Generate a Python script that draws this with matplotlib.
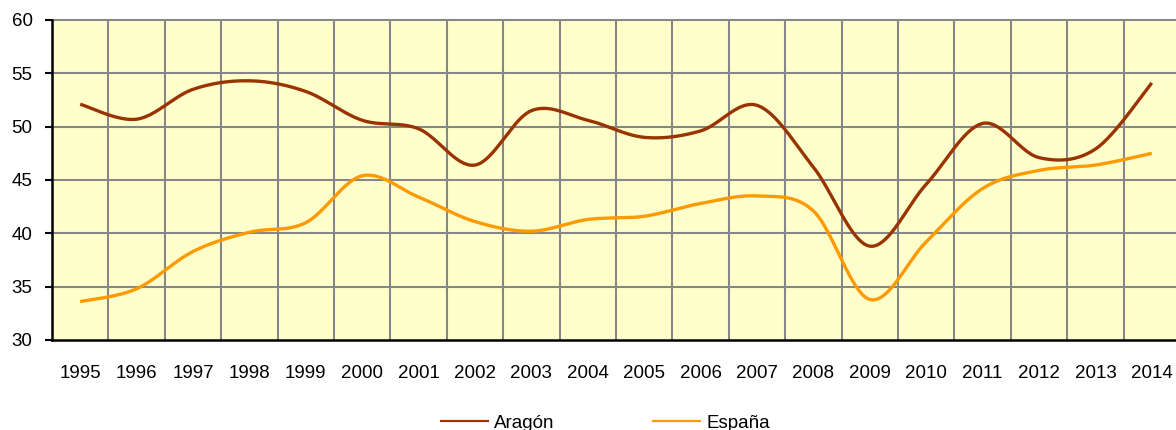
import numpy as np
import matplotlib
matplotlib.use("Agg")
import matplotlib.pyplot as plt

plt.rcParams['font.family'] = ['Liberation Sans', 'DejaVu Sans']

years = ['1995', '1996', '1997', '1998', '1999', '2000', '2001', '2002', '2003', '2004',
         '2005', '2006', '2007', '2008', '2009', '2010', '2011', '2012', '2013', '2014']
aragon = [52.1, 50.7, 53.5, 54.3, 53.3, 50.6, 49.8, 46.4, 51.5, 50.6,
          49.0, 49.6, 52.0, 46.2, 38.8, 44.6, 50.3, 47.1, 47.9, 54.1]
espana = [33.6, 34.8, 38.3, 40.1, 41.0, 45.4, 43.4, 41.1, 40.2, 41.3,
          41.6, 42.8, 43.5, 42.1, 33.8, 39.2, 44.2, 45.9, 46.4, 47.5]

ARAGON_COLOR = '#993300'
ESPANA_COLOR = '#FF9900'
GRID_COLOR = '#878787'


def smooth(xs, ys, n=40):
    """Cubic Bezier smoothing through every point (Catmull-Rom control points)."""
    xs = np.asarray(xs, float)
    ys = np.asarray(ys, float)
    px = np.concatenate([[xs[0]], xs, [xs[-1]]])
    py = np.concatenate([[ys[0]], ys, [ys[-1]]])
    out_x, out_y = [], []
    t = np.linspace(0, 1, n)
    for i in range(1, len(px) - 2):
        p0 = np.array([px[i], py[i]])
        p3 = np.array([px[i + 1], py[i + 1]])
        p1 = p0 + (np.array([px[i + 1], py[i + 1]]) - np.array([px[i - 1], py[i - 1]])) / 6
        p2 = p3 - (np.array([px[i + 2], py[i + 2]]) - np.array([px[i], py[i]])) / 6
        b = ((1 - t) ** 3)[:, None] * p0 + (3 * (1 - t) ** 2 * t)[:, None] * p1 \
            + (3 * (1 - t) * t ** 2)[:, None] * p2 + (t ** 3)[:, None] * p3
        out_x.extend(b[:, 0])
        out_y.extend(b[:, 1])
    return np.array(out_x), np.array(out_y)


W, H = 1176, 430
fig = plt.figure(figsize=(W / 100, H / 100), dpi=100)
ax = fig.add_axes([52 / W, 1 - 340 / H, (1180 - 52) / W, 320 / H])
ax.set_facecolor('#FFFFCC')

x = np.arange(len(years))
for vals, col, lab in [(aragon, ARAGON_COLOR, 'Aragón'), (espana, ESPANA_COLOR, 'España')]:
    sx, sy = smooth(x, vals)
    ax.plot(sx, sy, color=col, lw=2.4, label=lab, solid_capstyle='butt', zorder=3)

ax.set_xlim(-0.5, len(years) - 0.5)
ax.set_ylim(30, 60)
ax.set_yticks(np.arange(30, 61, 5))
ax.set_xticks(x)
ax.set_xticklabels(years)

# Category boundaries and value gridlines
for xv in np.arange(0.5, len(years) - 0.5):
    ax.axvline(xv, color=GRID_COLOR, lw=1.5, zorder=1)
for yv in np.arange(35, 61, 5):
    ax.axhline(yv, color=GRID_COLOR, lw=1.5, zorder=1, clip_on=False)

for s in ['top', 'right']:
    ax.spines[s].set_visible(False)
ax.spines['left'].set_color('black')
ax.spines['left'].set_linewidth(1.8)
ax.spines['bottom'].set_color('black')
ax.spines['bottom'].set_linewidth(1.8)

ax.tick_params(axis='y', which='major', direction='out', length=5, width=1.5,
               pad=9, labelsize=13.5)
ax.tick_params(axis='x', which='major', length=0, pad=18, labelsize=13.5)

handles, labels = ax.get_legend_handles_labels()
leg = fig.legend(handles, labels, loc='center', bbox_to_anchor=(605 / W, 1 - 423 / H),
                 ncol=2, frameon=False, fontsize=13.5, handlelength=2.6,
                 handletextpad=0.3, columnspacing=5.2)
for ln in leg.get_lines():
    ln.set_linewidth(1.6)

fig.savefig('out.png', dpi=100)
